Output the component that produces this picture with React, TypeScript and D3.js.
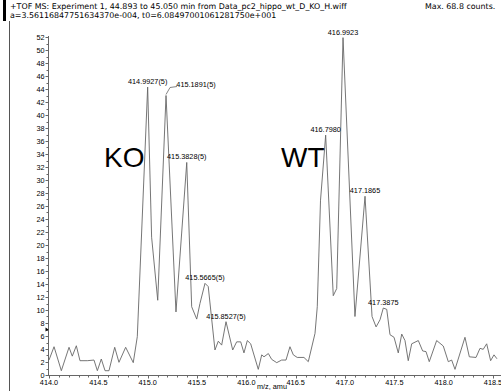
import React, { useEffect, useRef } from "react";
import * as d3 from "d3";

// spectrum trace
const mz = [
  414.0, 414.051, 414.125, 414.203, 414.236, 414.277, 414.314, 414.388, 414.456, 414.49,
  414.53, 414.568, 414.608, 414.666, 414.709, 414.777, 414.854, 414.895, 415.0, 415.04,
  415.102, 415.186, 415.287, 415.396, 415.446, 415.497, 415.53, 415.581, 415.614, 415.682,
  415.716, 415.75, 415.794, 415.862, 415.902, 415.943, 415.976, 416.01, 416.044, 416.121,
  416.156, 416.179, 416.223, 416.257, 416.308, 416.358, 416.402, 416.442, 416.476, 416.516,
  416.584, 416.628, 416.696, 416.719, 416.752, 416.804, 416.881, 416.916, 416.98, 417.101,
  417.203, 417.274, 417.315, 417.355, 417.388, 417.423, 417.456, 417.497, 417.54, 417.575,
  417.608, 417.641, 417.676, 417.743, 417.787, 417.821, 417.854, 417.929, 417.996, 418.047,
  418.081, 418.115, 418.216, 418.26, 418.328, 418.368, 418.401, 418.436, 418.476, 418.51,
  418.54,
];
const counts = [
  2.3, 4.35, 0.66, 4.26, 2.9, 4.5, 2.2, 2.2, 2.3, 0.66,
  2.46, 0.66, 0.66, 4.26, 1.95, 4.26, 1.9, 5.9, 44.3, 21.2,
  11.5, 43.0, 9.7, 32.7, 10.5, 8.6, 11.0, 14.1, 13.6, 3.85,
  5.2, 4.6, 8.2, 3.85, 5.1, 5.1, 3.4, 5.3, 4.8, 0.87,
  3.1, 2.8, 3.3, 2.4, 1.9, 2.3, 2.3, 4.35, 3.1, 2.7,
  2.7, 2.05, 6.4, 10.5, 26.9, 36.9, 12.2, 13.3, 51.9, 9.0,
  27.5, 9.0, 7.4, 8.5, 10.3, 10.1, 6.2, 5.8, 3.4, 6.3,
  5.3, 2.2, 4.8, 5.3, 3.7, 3.6, 2.05, 5.3, 4.46, 2.05,
  2.3, 0.87, 5.8, 2.8, 2.7, 4.1, 3.95, 4.8, 2.2, 3.1,
  2.5,
];

// peak annotations
const peakLabels = [
  "414.9927(5)", "415.1891(5)", "415.3828(5)", "415.5665(5)", "415.8527(5)",
  "416.7980", "416.9923", "417.1865", "417.3875",
];
const peakMz = [415.0, 415.186, 415.396, 415.581, 415.794, 416.804, 416.98, 417.203, 417.388];
const peakCounts = [44.3, 43.0, 32.7, 14.1, 8.2, 36.9, 51.9, 27.5, 10.3];

const yTicks = d3.range(0, 53, 2);
const xTicks = [414.0, 414.5, 415.0, 415.5, 416.0, 416.5, 417.0, 417.5, 418.0, 418.5];

const title1 = "+TOF MS: Experiment 1, 44.893 to 45.050 min from Data_pc2_hippo_wt_D_KO_H.wiff";
const title2 = "a=3.56116847751634370e-004, t0=6.08497001061281750e+001";
const maxText = "Max. 68.8 counts.";

export default function App() {
  const ref = useRef<SVGSVGElement>(null);

  useEffect(() => {
    const svg = d3.select(ref.current);
    svg.selectAll("*").remove();
    const font = "'Liberation Sans', Arial, sans-serif";

    const x = d3.scaleLinear().domain([414, 418.5]).range([49, 493]);
    const y = d3.scaleLinear().domain([0, 52]).range([375, 37]);

    // header
    svg.append("rect").attr("x", 3).attr("y", 0).attr("width", 3).attr("height", 21).attr("fill", "#000");
    svg.append("line").attr("x1", 9.5).attr("x2", 9.5).attr("y1", 21).attr("y2", 391)
      .attr("stroke", "#555").attr("stroke-width", 1);
    const head = svg.append("g").style("font-family", "'DejaVu Sans', sans-serif").style("font-size", "7.9px").attr("fill", "#000");
    head.append("text").attr("x", 10).attr("y", 8.5).text(title1);
    head.append("text").attr("x", 10).attr("y", 18).text(title2);
    head.append("text").attr("x", 425).attr("y", 8.5).text(maxText);

    // y axis
    const ya = svg.append("g").attr("transform", "translate(48.5,0)");
    ya.append("line").attr("y1", y(52) - 1).attr("y2", y(0)).attr("stroke", "#666");
    ya.selectAll("line.minor").data(d3.range(1, 52, 2)).join("line").attr("class", "minor")
      .attr("x1", -2).attr("x2", 0).attr("y1", (d) => Math.round(y(d)) + 0.5).attr("y2", (d) => Math.round(y(d)) + 0.5)
      .attr("stroke", "#666");
    ya.selectAll("line.major").data(yTicks).join("line").attr("class", "major")
      .attr("x1", -3).attr("x2", 0).attr("y1", (d) => Math.round(y(d)) + 0.5).attr("y2", (d) => Math.round(y(d)) + 0.5)
      .attr("stroke", "#666");
    ya.selectAll("text").data(yTicks).join("text")
      .attr("x", -4).attr("y", (d) => y(d) + 2.5).attr("text-anchor", "end")
      .style("font-family", font).style("font-size", "7.3px").text((d) => d);
    ya.append("path").attr("d", `M-3,${y(7) - 2}L0,${y(7)}L-3,${y(7) + 2}Z`).attr("fill", "#000");

    // x axis
    const xa = svg.append("g").attr("transform", "translate(0,375.5)");
    xa.append("line").attr("x1", 48).attr("x2", 501).attr("stroke", "#666");
    xa.selectAll("line.minor").data(d3.range(414, 418.55, 0.1)).join("line").attr("class", "minor")
      .attr("x1", (d) => Math.round(x(d)) + 0.5).attr("x2", (d) => Math.round(x(d)) + 0.5)
      .attr("y1", 0).attr("y2", 2).attr("stroke", "#666");
    xa.selectAll("line.major").data(xTicks).join("line").attr("class", "major")
      .attr("x1", (d) => Math.round(x(d)) + 0.5).attr("x2", (d) => Math.round(x(d)) + 0.5)
      .attr("y1", 0).attr("y2", 3).attr("stroke", "#666");
    xa.selectAll("text").data(xTicks).join("text")
      .attr("x", (d) => x(d)).attr("y", 9).attr("text-anchor", "middle")
      .style("font-family", font).style("font-size", "7.3px").text((d) => d3.format(".1f")(d));
    svg.append("text").attr("x", 272).attr("y", 389).attr("text-anchor", "middle")
      .style("font-family", font).style("font-size", "7.3px").text("m/z, amu");

    // trace
    const pts = mz.map((m, i) => [m, counts[i]] as [number, number]);
    svg.append("path").datum(pts)
      .attr("d", d3.line<[number, number]>().x((d) => x(d[0])).y((d) => y(d[1])))
      .attr("fill", "none").attr("stroke", "#666").attr("stroke-width", 0.9);

    // peak labels
    const lab = svg.append("g").style("font-family", font).style("font-size", "7.3px").attr("fill", "#000");
    peakLabels.forEach((t, i) => {
      let tx = x(peakMz[i]);
      let ty = y(peakCounts[i]) - 3;
      if (i === 1) {
        tx += 30;
        ty -= 6;
        svg.append("path")
          .attr("d", `M${x(peakMz[i])},${y(peakCounts[i]) - 1}L${x(peakMz[i]) + 4},${y(peakCounts[i]) - 8}L${x(peakMz[i]) + 11},${y(peakCounts[i]) - 9}`)
          .attr("fill", "none").attr("stroke", "#666").attr("stroke-width", 0.8);
      }
      lab.append("text").attr("x", tx).attr("y", ty).attr("text-anchor", "middle").text(t);
    });

    // group labels
    svg.append("text").attr("x", 104).attr("y", 167).style("font-family", font).style("font-size", "28px").text("KO");
    svg.append("text").attr("x", 281).attr("y", 167).style("font-family", font).style("font-size", "28px").text("WT");
  }, []);

  return <svg ref={ref} width={501} height={391} style={{ position: "absolute", left: 0, top: 0, background: "#fff" }} />;
}
